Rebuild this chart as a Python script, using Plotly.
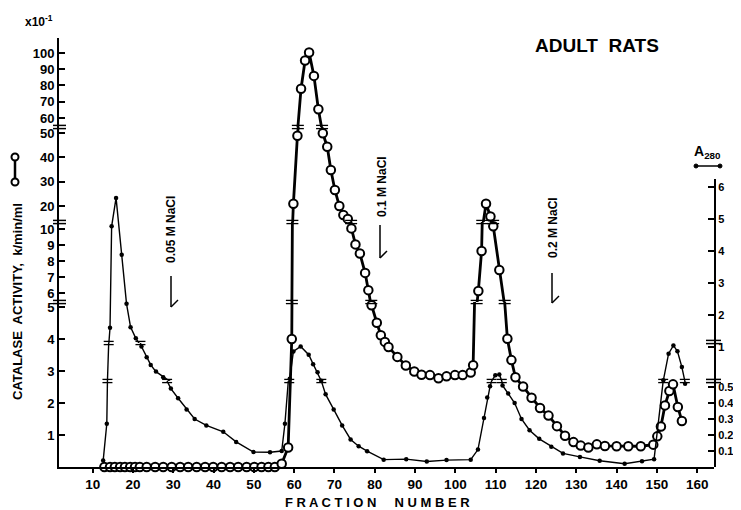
import plotly.graph_objects as go

# ---------------- data ----------------
x_tick_vals = [10, 20, 30, 40, 50, 60, 70, 80, 90, 100, 110, 120, 130, 140, 150, 160]

left_tick_vals = [1, 2, 3, 4, 5, 6, 7, 8, 9, 10, 20, 30, 40, 50, 60, 70, 80, 90, 100]
right_tick_vals = [0.1, 0.2, 0.3, 0.4, 0.5, 1, 2, 3, 4, 5, 6]
right_tick_text = ["0.1", "0.2", "0.3", "0.4", "0.5", "1", "2", "3", "4", "5", "6"]

# catalase activity (x10^-1 k/min/ml), open circles, left axis
frac_catalase = [12.9, 14.3, 15.5, 16.8, 18.0, 19.3, 20.5, 21.7, 23.4, 25.5,
                 27.5, 29.6, 31.7, 33.7, 35.8, 37.9, 39.9, 42.0, 44.1, 46.1,
                 48.2, 50.1, 51.9, 53.6, 55.2,
                 56.9, 58.5, 59.4, 59.8, 60.8, 61.7, 62.7, 63.7, 64.9, 66.0,
                 67.1, 68.2, 69.1, 70.1, 71.2, 72.2, 73.3, 74.2, 75.2, 76.3,
                 77.6, 78.4, 79.2, 80.5, 81.5, 82.5, 83.4, 85.6, 87.7, 89.8,
                 91.6, 93.7, 95.8, 97.8, 99.9, 101.8, 103.8, 104.4, 105.7, 106.5,
                 107.6, 108.7, 109.4, 110.9, 112.9, 113.9, 114.9, 116.8, 118.9, 121.0,
                 123.1, 125.2, 127.2, 129.3, 131.1, 133.0, 135.1, 137.1, 140.0, 142.9,
                 146.0, 149.1, 150.1, 151.0, 152.0, 153.1, 154.0, 155.2, 156.2]
catalase = [0, 0, 0, 0, 0, 0, 0, 0, 0, 0,
            0, 0, 0, 0, 0, 0, 0, 0, 0, 0,
            0, 0, 0, 0, 0,
            0.1, 0.61, 4.01, 20.9, 48.9, 78.0, 95.4, 100.3, 85.9, 65.4,
            49.9, 44.4, 34.8, 26.6, 20.0, 16.3, 14.7, 10.04, 9.04, 8.47,
            7.26, 6.18, 5.07, 4.52, 4.13, 3.92, 3.76, 3.45, 3.18, 2.99,
            2.89, 2.88, 2.78, 2.84, 2.88, 2.88, 2.96, 3.19, 6.13, 8.63,
            20.9, 15.7, 10.17, 7.44, 4.02, 3.35, 2.81, 2.52, 2.17, 1.85,
            1.61, 1.28, 0.98, 0.78, 0.67, 0.61, 0.71, 0.66, 0.65, 0.65,
            0.65, 0.70, 0.96, 1.27, 1.93, 2.38, 2.59, 1.88, 1.44]

# absorbance at 280 nm, small dots, right axis
frac_a280 = [12.6, 13.5, 14.3, 14.7, 15.8, 17.2, 18.4, 19.4, 20.7, 22.1,
             23.4, 24.4, 25.7, 27.5, 29.4, 31.2, 33.3, 35.3, 38.2, 42.4,
             45.6, 49.9, 54.0, 56.9, 57.7, 58.9, 59.8, 61.6, 63.6, 64.7,
             65.8, 66.7, 67.8, 69.8, 71.9, 74.0, 76.0, 78.1, 82.2, 87.8,
             92.9, 97.8, 103.8, 105.6, 107.1, 107.9, 108.6, 109.9, 110.9, 111.7,
             113.1, 114.7, 116.4, 118.4, 120.8, 123.8, 126.7, 130.9, 135.8, 142.0,
             146.3, 149.3, 151.6, 152.9, 154.1, 155.1, 156.2, 157.0]
a280 = [0.04, 0.27, 1.6, 4.77, 5.66, 3.88, 2.35, 1.62, 1.27, 1.007,
        0.861, 0.756, 0.665, 0.587, 0.49, 0.43, 0.36, 0.30, 0.26, 0.22,
        0.157, 0.093, 0.092, 0.10, 0.27, 0.569, 0.940, 1.007, 0.894, 0.766,
        0.656, 0.540, 0.454, 0.36, 0.26, 0.172, 0.13, 0.099, 0.046, 0.049,
        0.034, 0.043, 0.046, 0.109, 0.306, 0.434, 0.504, 0.615, 0.627, 0.51,
        0.46, 0.40, 0.30, 0.23, 0.176, 0.127, 0.085, 0.063, 0.039, 0.02,
        0.036, 0.049, 0.546, 0.909, 1.021, 0.941, 0.727, 0.52]

# ---------------- layout geometry ----------------
# the page body adds an 8 px margin, so the figure is 8 px smaller and
# all positions below are given in page pixels
OFF = 8
PAGE_W, PAGE_H = 741, 510
BOX_L, BOX_R, BOX_T, BOX_B = 59, 714, 38, 467   # plot box in page pixels
W, H = PAGE_W - OFF, PAGE_H - OFF
ML, MR, MT, MB = BOX_L - OFF, PAGE_W - BOX_R, BOX_T - OFF, PAGE_H - BOX_B
PW, PH = BOX_R - BOX_L, BOX_B - BOX_T
X_RANGE = [1.64, 164.17]


def fx(px):
    return (px - BOX_L) / PW


def fy(py):
    return (BOX_B - py) / PH


# broken axes: (name, pixel bottom, pixel top, value range)
left_segs = [
    ("y", 467, 302, [0, 5.17]),
    ("y2", 302, 222, [5.44, 10.44]),
    ("y3", 222, 127, [13.42, 52.5]),
    ("y4", 127, 38, [54.46, 109.2]),
]
right_segs = [
    ("y5", 467, 381, [0, 0.5375]),
    ("y6", 381, 343, [0.5375, 1.054]),
    ("y7", 343, 179, [1.125, 6.25]),
]

FONT = "Liberation Sans"
bold = dict(family=FONT, color="black", weight="bold")

fig = go.Figure()


def seg_points(xs, ys, segs, i):
    lo, hi = segs[i][3]
    lo_b = lo if i == 0 else (segs[i - 1][3][1] + lo) / 2
    hi_b = hi if i == len(segs) - 1 else (hi + segs[i + 1][3][0]) / 2
    px, py = [], []
    for a, b in zip(xs, ys):
        if (lo_b <= b < hi_b) or (i == len(segs) - 1 and b >= hi_b) or (i == 0 and b < lo_b):
            px.append(a)
            py.append(b)
    return px, py


# A280 series (thin line with dots)
for i, (name, _, _, _) in enumerate(right_segs):
    fig.add_trace(go.Scatter(x=frac_a280, y=a280, mode="lines", xaxis="x", yaxis=name,
                             line=dict(color="black", width=1.4), hoverinfo="skip",
                             showlegend=False))
    sx, sy = seg_points(frac_a280, a280, right_segs, i)
    fig.add_trace(go.Scatter(x=sx, y=sy, mode="markers", xaxis="x", yaxis=name,
                             marker=dict(color="black", size=4.5, symbol="circle"),
                             cliponaxis=False, hoverinfo="skip", showlegend=False))

# catalase series (thick line with open circles)
for i, (name, _, _, _) in enumerate(left_segs):
    fig.add_trace(go.Scatter(x=frac_catalase, y=catalase, mode="lines", xaxis="x", yaxis=name,
                             line=dict(color="black", width=2.8), hoverinfo="skip",
                             showlegend=False))
for i, (name, _, _, _) in enumerate(left_segs):
    sx, sy = seg_points(frac_catalase, catalase, left_segs, i)
    fig.add_trace(go.Scatter(x=sx, y=sy, mode="markers", xaxis="x", yaxis=name,
                             marker=dict(color="white", size=8.5, symbol="circle",
                                         line=dict(color="black", width=2)),
                             cliponaxis=False, hoverinfo="skip", showlegend=False))

layout = dict(
    width=W, height=H,
    margin=dict(l=ML, r=MR, t=MT, b=MB, autoexpand=False),
    paper_bgcolor="white", plot_bgcolor="rgba(0,0,0,0)",
    xaxis=dict(range=X_RANGE, domain=[0, 1], anchor="y",
               tickvals=x_tick_vals, ticktext=[str(v) for v in x_tick_vals],
               ticks="outside", ticklen=4, tickwidth=1.5, tickcolor="black",
               showline=True, linecolor="black", linewidth=2, automargin=False,
               showgrid=False, zeroline=False, tickfont=dict(size=13.5, **bold)),
)


def axis_def(bottom, top, rng, side):
    tv = [v for v in (left_tick_vals if side == "left" else right_tick_vals) if rng[0] <= v <= rng[1]]
    if side == "left":
        tt = [str(v) for v in tv]
    else:
        tt = [right_tick_text[right_tick_vals.index(v)] for v in tv]
    return dict(domain=[fy(bottom), fy(top)], range=rng, anchor="x", side=side,
                tickvals=tv, ticktext=tt, ticks="inside", ticklen=6, tickwidth=1.5,
                tickcolor="black", showline=True, linecolor="black", linewidth=2,
                showgrid=False, zeroline=False, automargin=False,
                tickfont=dict(size=13 if side == "left" else 11, **bold))


for name, b, t, rng in left_segs:
    key = "yaxis" if name == "y" else "yaxis" + name[1:]
    layout[key] = axis_def(b, t, rng, "left")
for name, b, t, rng in right_segs:
    layout["yaxis" + name[1:]] = axis_def(b, t, rng, "right")

fig.update_layout(**layout)

shapes = []


def break_mark(xref, x0, x1, py, width=1.4):
    for d in (-1.6, 1.6):
        shapes.append(dict(type="line", xref=xref, yref="paper",
                           x0=x0, x1=x1, y0=fy(py + d), y1=fy(py + d),
                           line=dict(color="black", width=width)))


# axis break marks
for py in [302, 222, 127]:
    break_mark("paper", fx(53), fx(66), py, 1.5)
for py in [381, 342]:
    break_mark("paper", fx(706), fx(721), py, 1.5)

# break marks where the curves pass an axis break
px_per_frac = PW / (X_RANGE[1] - X_RANGE[0])


def curve_breaks(xs, ys, segs, half_px):
    for i in range(len(segs) - 1):
        top_px = segs[i][2]
        hi = segs[i][3][1]
        for k in range(len(xs) - 1):
            v1, v2 = ys[k], ys[k + 1]
            if (v1 - hi) * (v2 - hi) < 0:
                t = (hi - v1) / (v2 - v1)
                xc = xs[k] + t * (xs[k + 1] - xs[k])
                h = half_px / px_per_frac
                break_mark("x", xc - h, xc + h, top_px, 1.3)


curve_breaks(frac_catalase, catalase, left_segs, 6)
curve_breaks(frac_a280, a280, right_segs, 5)

# NaCl step arrows
for xa, ytop, ybot in [(171, 276, 307), (380, 225, 258), (552, 273, 303)]:
    shapes.append(dict(type="line", xref="paper", yref="paper",
                       x0=fx(xa), x1=fx(xa), y0=fy(ytop), y1=fy(ybot),
                       line=dict(color="black", width=1.5)))
    shapes.append(dict(type="line", xref="paper", yref="paper",
                       x0=fx(xa), x1=fx(xa + 7), y0=fy(ybot), y1=fy(ybot - 7),
                       line=dict(color="black", width=1.5)))

# left legend symbol o---o
shapes.append(dict(type="line", xref="paper", yref="paper", x0=fx(15), x1=fx(15),
                   y0=fy(158), y1=fy(182), line=dict(color="black", width=2.5)))
for cy in (157, 182):
    shapes.append(dict(type="circle", xref="paper", yref="paper",
                       x0=fx(11.5), x1=fx(18.5), y0=fy(cy + 3.5), y1=fy(cy - 3.5),
                       fillcolor="white", line=dict(color="black", width=2)))
# A280 legend symbol .---.
shapes.append(dict(type="line", xref="paper", yref="paper", x0=fx(696), x1=fx(720),
                   y0=fy(166), y1=fy(166), line=dict(color="black", width=1.5)))
for cx in (696, 720):
    shapes.append(dict(type="circle", xref="paper", yref="paper",
                       x0=fx(cx - 2), x1=fx(cx + 2), y0=fy(168), y1=fy(164),
                       fillcolor="black", line=dict(color="black", width=1)))

annotations = [
    dict(text="ADULT  RATS", x=fx(597), y=fy(45), font=dict(size=19, **bold)),
    dict(text="x10<sup>-1</sup>", x=fx(39), y=fy(21), font=dict(size=12, **bold)),
    dict(text="A<sub>280</sub>", x=fx(707), y=fy(152), font=dict(size=14, **bold)),
    dict(text="CATALASE  ACTIVITY,  k/min/ml", x=fx(17), y=fy(302), textangle=-90,
         font=dict(size=13, **bold)),
    dict(text="F R A C T I O N     N U M B E R", x=fx(377), y=fy(502),
         font=dict(size=13, **bold)),
    dict(text="0.05 M NaCl", x=fx(171), y=fy(230), textangle=-90, font=dict(size=12, **bold)),
    dict(text="0.1 M NaCl", x=fx(382), y=fy(187), textangle=-90, font=dict(size=12, **bold)),
    dict(text="0.2 M NaCl", x=fx(553), y=fy(228), textangle=-90, font=dict(size=12, **bold)),
]
for a in annotations:
    a.update(xref="paper", yref="paper", showarrow=False, xanchor="center", yanchor="middle")

fig.update_layout(shapes=shapes, annotations=annotations)
fig.write_html("out.html")
